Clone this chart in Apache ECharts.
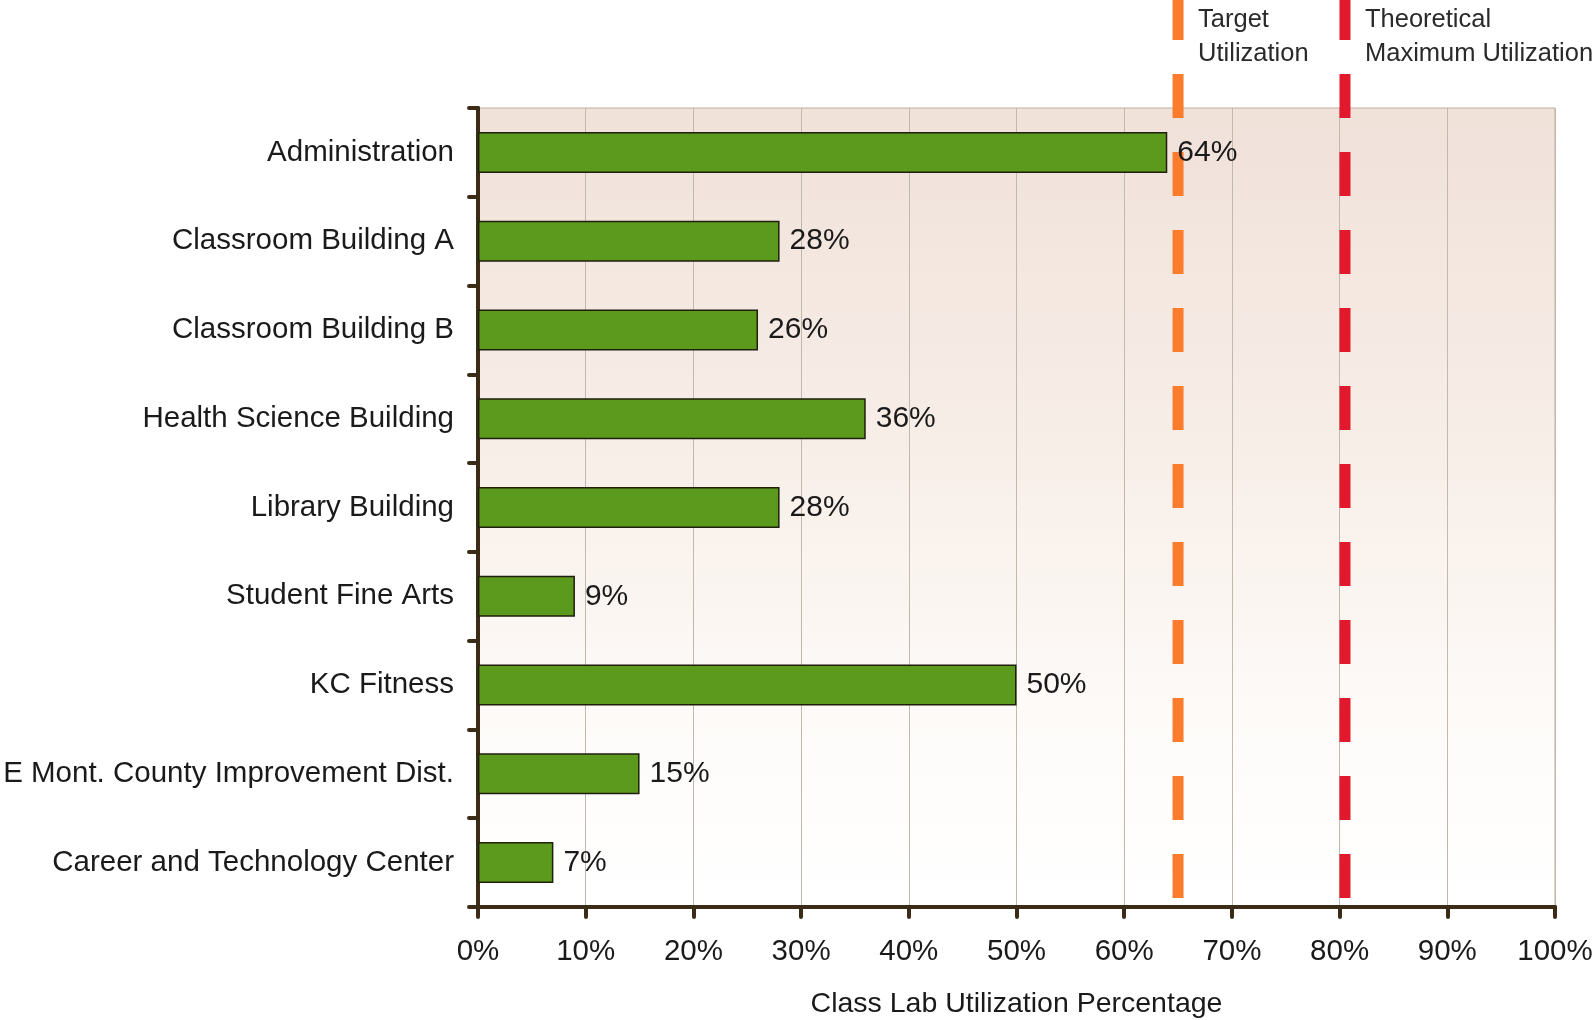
<!DOCTYPE html>
<html>
<head>
<meta charset="utf-8">
<title>Class Lab Utilization</title>
<script src="https://cdn.jsdelivr.net/npm/echarts@6/dist/echarts.min.js"></script>
<style>
  html, body { margin: 0; padding: 0; background: #ffffff; }
  #chart { width: 1593px; height: 1020px; }
</style>
</head>
<body>
<div id="chart"></div>
<script>
// Buildings and their class lab utilization (percent)
const buildings = [
  'Administration',
  'Classroom Building A',
  'Classroom Building B',
  'Health Science Building',
  'Library Building',
  'Student Fine Arts',
  'KC Fitness',
  'E Mont. County Improvement Dist.',
  'Career and Technology Center'
];
const utilization = [64, 28, 26, 36, 28, 9, 50, 15, 7];

// Reference thresholds drawn as dashed vertical lines
const thresholdValues = [65, 80.5];
const thresholdNames = ['Target\nUtilization', 'Theoretical\nMaximum Utilization'];
const thresholdColors = ['#fb7c2c', '#e2192c'];

const xTicks = { min: 0, max: 100, interval: 10 };

const FONT = '"Liberation Sans", Arial, Helvetica, sans-serif';
const AXIS_COLOR = '#3a2c16';

const chart = echarts.init(document.getElementById('chart'), null, { renderer: 'canvas' });

const thresholdData = thresholdValues.map((v, i) => ({
  value: [v, 0],
  name: thresholdNames[i],
  color: thresholdColors[i]
}));

chart.setOption({
  animation: false,
  backgroundColor: '#ffffff',
  textStyle: { fontFamily: FONT },
  grid: {
    left: 478,
    right: 38,
    top: 108,
    bottom: 113,
    outerBoundsMode: 'none',
    containLabel: false,
    show: true,
    borderColor: '#bdae9f',
    borderWidth: 1,
    backgroundColor: new echarts.graphic.LinearGradient(0, 0, 0, 1, [
      { offset: 0, color: '#f0e1d9' },
      { offset: 0.45, color: '#f8efe9' },
      { offset: 0.8, color: '#fefcfa' },
      { offset: 1, color: '#ffffff' }
    ])
  },
  xAxis: {
    type: 'value',
    min: xTicks.min,
    max: xTicks.max,
    interval: xTicks.interval,
    name: 'Class Lab Utilization Percentage',
    nameLocation: 'middle',
    nameGap: 83,
    nameTextStyle: { fontSize: 28.5, color: '#1a1a1a', fontFamily: FONT },
    axisLine: { show: true, lineStyle: { color: AXIS_COLOR, width: 4, cap: 'round' } },
    axisTick: { show: true, length: 10, lineStyle: { color: AXIS_COLOR, width: 4, cap: 'round' } },
    axisLabel: {
      formatter: '{value}%',
      fontSize: 29.5,
      color: '#1a1a1a',
      margin: 30,
      fontFamily: FONT
    },
    splitLine: { show: true, lineStyle: { color: '#c2b9ae', width: 1 } }
  },
  yAxis: {
    type: 'category',
    data: buildings,
    inverse: true,
    axisLine: { show: true, lineStyle: { color: AXIS_COLOR, width: 4, cap: 'round' } },
    axisTick: { show: true, length: 9, alignWithLabel: false, lineStyle: { color: AXIS_COLOR, width: 4, cap: 'round' } },
    axisLabel: { fontSize: 29.5, color: '#1a1a1a', margin: 24, fontFamily: FONT },
    splitLine: { show: false }
  },
  series: [
    {
      type: 'custom',
      name: 'Thresholds',
      coordinateSystem: 'cartesian2d',
      clip: false,
      z: 1,
      encode: { x: 0, y: 1 },
      data: thresholdData,
      renderItem: function (params, api) {
        const item = thresholdData[params.dataIndex];
        const x = api.coord([api.value(0), 0])[0];
        const cs = params.coordSys;
        const bottom = cs.y + cs.height - 9;
        return {
          type: 'group',
          children: [
            {
              type: 'line',
              shape: { x1: x, y1: bottom, x2: x, y2: 0 },
              style: { stroke: item.color, lineWidth: 11, lineDash: [44, 34] }
            },
            {
              type: 'text',
              x: x + 20,
              y: 3,
              style: {
                text: item.name,
                fill: '#2a2a2a',
                font: '25.5px ' + FONT,
                lineHeight: 34,
                verticalAlign: 'top',
                align: 'left'
              }
            }
          ]
        };
      }
    },
    {
      type: 'bar',
      name: 'Utilization',
      data: utilization,
      barWidth: 41,
      z: 3,
      itemStyle: { color: '#5c9a1d', borderColor: '#1f1f0c', borderWidth: 1.5 },
      label: {
        show: true,
        position: 'right',
        distance: 10,
        formatter: '{c}%',
        fontSize: 30,
        color: '#1a1a1a',
        fontFamily: FONT
      }
    }
  ]
});
</script>
</body>
</html>
